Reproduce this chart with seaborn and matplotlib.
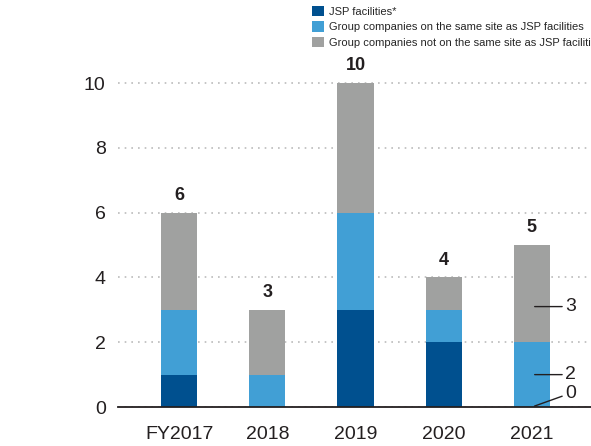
import numpy as np
import pandas as pd
import matplotlib
matplotlib.use('Agg')
import matplotlib.pyplot as plt
from matplotlib.patches import Patch
import seaborn as sns

years = ['FY2017', '2018', '2019', '2020', '2021']
jsp = [1, 0, 3, 2, 0]
same_site = [2, 1, 3, 1, 2]
other_site = [3, 2, 4, 1, 3]
labels = ['JSP facilities*',
          'Group companies on the same site as JSP facilities',
          'Group companies not on the same site as JSP facilities']
colors = ['#00508f', '#419fd5', '#a0a1a0']

sns.set_style('white')
plt.rcParams['font.family'] = ['Liberation Sans Narrow', 'Liberation Sans', 'DejaVu Sans']

df = pd.DataFrame({'year': years, 'jsp': jsp, 'same': same_site, 'other': other_site})
df['lvl2'] = df['jsp'] + df['same']
df['total'] = df['lvl2'] + df['other']

fig = plt.figure(figsize=(5.91, 4.46), dpi=100)
ax = fig.add_axes([0.2, 0.0874, 0.8, 0.77])

# stacked bars drawn as cumulative heights, back to front
for col, c in zip(['total', 'lvl2', 'jsp'], colors[::-1]):
    sns.barplot(data=df, x='year', y=col, color=c, width=0.41,
                saturation=1, ax=ax, linewidth=0)

ax.set_ylim(0, 10.6)
ax.set_xlim(-0.69, 4.67)
ax.set_yticks(range(0, 11, 2))
ax.set_xlabel('')
ax.set_ylabel('')
ax.yaxis.grid(True, linestyle=(0, (1, 3)), color='#bbbbbb', linewidth=1.2)
ax.set_axisbelow(True)
for s in ['top', 'right', 'left']:
    ax.spines[s].set_visible(False)
ax.spines['bottom'].set_color('#231f20')
ax.spines['bottom'].set_linewidth(1.3)
ax.tick_params(axis='y', length=0, labelsize=14, colors='#231f20', pad=9)
ax.tick_params(axis='x', length=0, labelsize=14, colors='#231f20', pad=14)

for i, t in enumerate(df['total']):
    ax.text(i, t + 0.27, str(t), ha='center', va='bottom', fontsize=13,
            fontweight='bold', color='#231f20')

# leader labels for the last bar
last = len(years) - 1
for y0, y1, txt in [(3.1, 3.1, other_site[-1]), (1.0, 1.0, same_site[-1]), (0.0, 0.43, jsp[-1])]:
    ax.annotate(str(txt), xy=(last, y0), xytext=(last + 0.38, y1),
                ha='left', va='center', fontsize=14, color='#231f20',
                arrowprops=dict(arrowstyle='-', color='#231f20', lw=1,
                                shrinkA=0, shrinkB=2),
                annotation_clip=False)

handles = [Patch(facecolor=c, edgecolor='none') for c in colors]
fig.legend(handles, labels, loc='upper left', bbox_to_anchor=(0.518, 1.0),
           frameon=False, fontsize=8, handlelength=1.1, handleheight=1.1,
           handletextpad=0.45, labelspacing=0.4, borderaxespad=0.1)

fig.savefig('out.png', dpi=100)
